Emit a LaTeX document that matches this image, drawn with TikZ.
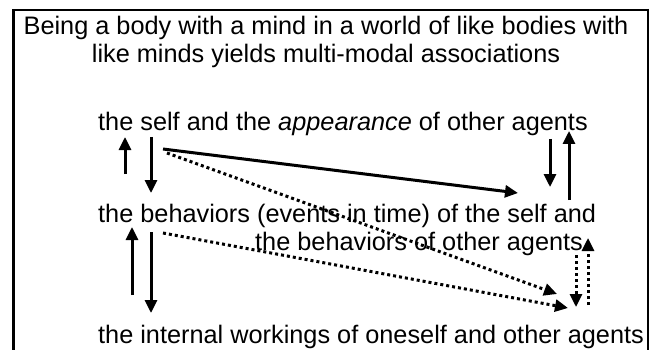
\documentclass[tikz,border=0pt]{standalone}
\usepackage{fontspec}
\setmainfont{Liberation Sans}
\usetikzlibrary{arrows.meta}
\begin{document}
\begin{tikzpicture}[x=1pt,y=-1pt,
  lbl/.style={inner sep=0pt,anchor=base west,font=\fontsize{25.3}{28}\selectfont},
  ttl/.style={inner sep=0pt,anchor=base,font=\fontsize{25.3}{28}\selectfont},
  link/.style={line width=3pt,-{Triangle[length=13pt,width=12pt]}},
  dotlink/.style={link,dash pattern=on 3pt off 3pt}]
\useasboundingbox (0,0) rectangle (653,350);
% open frame round the figure
\draw[line width=3pt] (13,350) -- (13,9);
\draw[line width=2pt] (12,10) -- (648,10);
\draw[line width=1.5pt] (648,9) -- (648,350);
% heading
\node[ttl] (t1) at (326,35) {Being a body with a mind in a world of like bodies with};
\node[ttl] (t2) at (326,63) {like minds yields multi-modal associations};
% the three levels
\node[lbl] (self) at (98,131) {the self and the \textit{appearance} of other agents};
\node[lbl] (beh) at (98,222) {the behaviors (events in time) of the self and};
\node[lbl] (beh2) at (255,250) {the behaviors of other agents};
\node[lbl] (intl) at (98,343) {the internal workings of oneself and other agents};
% arrow end points
\coordinate (a1s) at (125,174); \coordinate (a1e) at (125,137);
\coordinate (a2s) at (151,137); \coordinate (a2e) at (151,193);
\coordinate (a3s) at (163,149); \coordinate (a3e) at (518,193);
\coordinate (a4s) at (167,153); \coordinate (a4e) at (557,294);
\coordinate (a5s) at (550,139); \coordinate (a5e) at (550,187);
\coordinate (a6s) at (569,200); \coordinate (a6e) at (569,131);
\coordinate (a7s) at (132,295); \coordinate (a7e) at (132,227);
\coordinate (a8s) at (151,232); \coordinate (a8e) at (151,313);
\coordinate (a9s) at (163,233); \coordinate (a9e) at (568,308);
\coordinate (a10s) at (576,255); \coordinate (a10e) at (576,307);
\coordinate (a11s) at (588,305); \coordinate (a11e) at (588,238);
% solid associations
\draw[link] (a1s) -- (a1e);
\draw[link] (a2s) -- (a2e);
\draw[link] (a3s) -- (a3e);
\draw[link] (a5s) -- (a5e);
\draw[link] (a6s) -- (a6e);
\draw[link] (a7s) -- (a7e);
\draw[link] (a8s) -- (a8e);
% dotted associations
\draw[dotlink] (a4s) -- (a4e);
\draw[dotlink] (a9s) -- (a9e);
\draw[dotlink] (a10s) -- (a10e);
\draw[dotlink] (a11s) -- (a11e);
\end{tikzpicture}
\end{document}
